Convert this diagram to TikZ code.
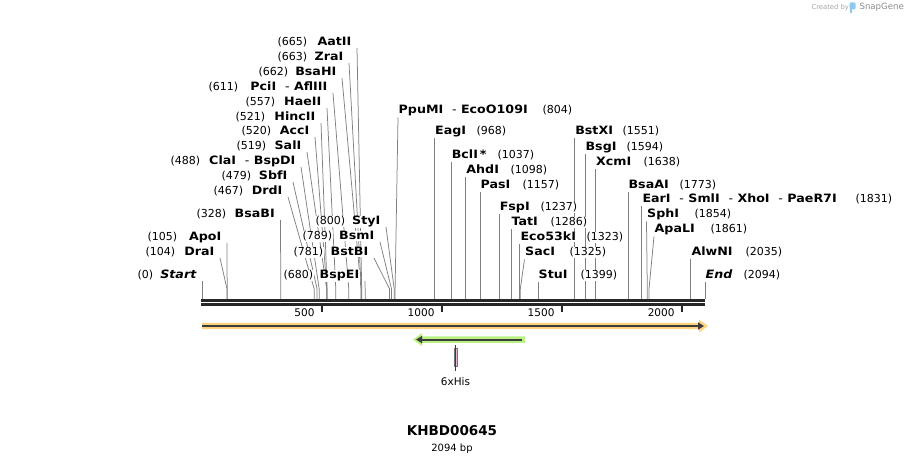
\documentclass[tikz,border=0pt]{standalone}
\usepackage{fontspec}
\setmainfont{DejaVu Sans}
\newfontfamily\enzfont{DejaVu Sans}[FakeStretch=1.1]
\usepackage{tikz}
\usetikzlibrary{positioning, arrows.meta, backgrounds}

\definecolor{leadgray}{RGB}{128,128,128}
\definecolor{bandorange}{RGB}{255,210,125}
\definecolor{bandgreen}{RGB}{185,240,130}
\definecolor{arrowdark}{RGB}{60,60,60}
\definecolor{hispink}{RGB}{228,180,210}
\definecolor{snapblue}{RGB}{140,200,240}

\begin{document}
\begin{tikzpicture}[x=1pt, y=-1pt,
    num/.style={inner sep=0.5pt, fill=white, font=\fontsize{11}{13}\selectfont},
    enz/.style={inner sep=0.5pt, fill=white, font=\enzfont\bfseries\fontsize{11.5}{13}\selectfont},
    lead/.style={draw=leadgray, line width=0.75pt},
    tick/.style={font=\fontsize{10.5}{12}\selectfont, anchor=base east}]

    \useasboundingbox (0,0) rectangle (906,462);

    % cut sites on top of the ruler
    \coordinate (s0) at (202,299);
    \coordinate (s104) at (227.0,299);
    \coordinate (s105) at (227.2,299);
    \coordinate (s328) at (280.8,299);
    \coordinate (s467) at (314.2,299);
    \coordinate (s479) at (317.1,299);
    \coordinate (s488) at (319.2,299);
    \coordinate (s519) at (326.7,299);
    \coordinate (s520) at (326.9,299);
    \coordinate (s521) at (327.1,299);
    \coordinate (s557) at (335.8,299);
    \coordinate (s611) at (348.8,299);
    \coordinate (s662) at (361.0,299);
    \coordinate (s663) at (361.3,299);
    \coordinate (s665) at (361.7,299);
    \coordinate (s680) at (365.3,299);
    \coordinate (s781) at (389.6,299);
    \coordinate (s789) at (391.5,299);
    \coordinate (s800) at (394.2,299);
    \coordinate (s804) at (395.1,299);
    \coordinate (s968) at (434.5,299);
    \coordinate (s1037) at (451.1,299);
    \coordinate (s1098) at (465.7,299);
    \coordinate (s1157) at (479.9,299);
    \coordinate (s1237) at (499.1,299);
    \coordinate (s1286) at (510.9,299);
    \coordinate (s1323) at (519.8,299);
    \coordinate (s1325) at (520.3,299);
    \coordinate (s1399) at (538.0,299);
    \coordinate (s1551) at (574.6,299);
    \coordinate (s1594) at (584.9,299);
    \coordinate (s1638) at (595.5,299);
    \coordinate (s1773) at (627.9,299);
    \coordinate (s1831) at (641.8,299);
    \coordinate (s1854) at (647.3,299);
    \coordinate (s1861) at (649.0,299);
    \coordinate (s2035) at (690.8,299);
    \coordinate (s2094) at (705,299);

    % labels left of their site
    \node[enz, anchor=base east] (aatii) at (352,46) {AatII};
    \node[num, anchor=base west] (n665) at (277,46) {(665)};
    \node[enz, anchor=base east] (zrai) at (344,61) {ZraI};
    \node[num, anchor=base west] (n663) at (277,61) {(663)};
    \node[enz, anchor=base east] (bsahi) at (337,76) {BsaHI};
    \node[num, anchor=base west] (n662) at (258,76) {(662)};
    \node[enz, anchor=base east] (pcii) at (328,91) {PciI\ \ \textmd{-}\ AflIII};
    \node[num, anchor=base west] (n611) at (208,91) {(611)};
    \node[enz, anchor=base east] (haeii) at (322,106) {HaeII};
    \node[num, anchor=base west] (n557) at (245,106) {(557)};
    \node[enz, anchor=base east] (hincii) at (316,121) {HincII};
    \node[num, anchor=base west] (n521) at (235,121) {(521)};
    \node[enz, anchor=base east] (acci) at (310,135) {AccI};
    \node[num, anchor=base west] (n520) at (241,135) {(520)};
    \node[enz, anchor=base east] (sali) at (302,150) {SalI};
    \node[num, anchor=base west] (n519) at (236,150) {(519)};
    \node[enz, anchor=base east] (clai) at (296,165) {ClaI\ \ \textmd{-}\ BspDI};
    \node[num, anchor=base west] (n488) at (170,165) {(488)};
    \node[enz, anchor=base east] (sbfi) at (288,180) {SbfI};
    \node[num, anchor=base west] (n479) at (221,180) {(479)};
    \node[enz, anchor=base east] (drdi) at (283,195) {DrdI};
    \node[num, anchor=base west] (n467) at (213,195) {(467)};
    \node[enz, anchor=base east] (bsabi) at (275.5,218) {BsaBI};
    \node[num, anchor=base west] (n328) at (196,218) {(328)};
    \node[enz, anchor=base east] (apoi) at (222,241) {ApoI};
    \node[num, anchor=base west] (n105) at (147,241) {(105)};
    \node[enz, anchor=base east] (drai) at (215,256) {DraI};
    \node[num, anchor=base west] (n104) at (145,256) {(104)};
    \node[enz, anchor=base east] (start) at (197,279) {\itshape Start};
    \node[num, anchor=base west] (n0) at (137,279) {(0)};
    \node[enz, anchor=base east] (styi) at (381,225) {StyI};
    \node[num, anchor=base west] (n800) at (315,225) {(800)};
    \node[enz, anchor=base east] (bsmi) at (375,240) {BsmI};
    \node[num, anchor=base west] (n789) at (302,240) {(789)};
    \node[enz, anchor=base east] (bstbi) at (369,256) {BstBI};
    \node[num, anchor=base west] (n781) at (293,256) {(781)};
    \node[enz, anchor=base east] (bspei) at (360,279) {BspEI};
    \node[num, anchor=base west] (n680) at (283,279) {(680)};

    % labels right of their site
    \node[enz, anchor=base west] (ppumi) at (398,114) {PpuMI\ \ \textmd{-}\ EcoO109I};
    \node[num, anchor=base west] (n804) at (542,114) {(804)};
    \node[enz, anchor=base west] (eagi) at (434.5,135) {EagI};
    \node[num, anchor=base west] (n968) at (476,135) {(968)};
    \node[enz, anchor=base west] (bcli) at (451.1,159) {BclI\,*};
    \node[num, anchor=base west] (n1037) at (497,159) {(1037)};
    \node[enz, anchor=base west] (ahdi) at (465.7,174) {AhdI};
    \node[num, anchor=base west] (n1098) at (510,174) {(1098)};
    \node[enz, anchor=base west] (pasi) at (479.9,189) {PasI};
    \node[num, anchor=base west] (n1157) at (522,189) {(1157)};
    \node[enz, anchor=base west] (fspi) at (499.1,211) {FspI};
    \node[num, anchor=base west] (n1237) at (540,211) {(1237)};
    \node[enz, anchor=base west] (tati) at (510.9,226) {TatI};
    \node[num, anchor=base west] (n1286) at (550,226) {(1286)};
    \node[enz, anchor=base west] (ecoki) at (519.8,241) {Eco53kI};
    \node[num, anchor=base west] (n1323) at (586,241) {(1323)};
    \node[enz, anchor=base west] (saci) at (524.5,256) {SacI};
    \node[num, anchor=base west] (n1325) at (569,256) {(1325)};
    \node[enz, anchor=base west] (stui) at (538,279) {StuI};
    \node[num, anchor=base west] (n1399) at (580,279) {(1399)};
    \node[enz, anchor=base west] (bstxi) at (574.6,135) {BstXI};
    \node[num, anchor=base west] (n1551) at (622,135) {(1551)};
    \node[enz, anchor=base west] (bsgi) at (584.9,151) {BsgI};
    \node[num, anchor=base west] (n1594) at (626,151) {(1594)};
    \node[enz, anchor=base west] (xcmi) at (595.5,166) {XcmI};
    \node[num, anchor=base west] (n1638) at (643,166) {(1638)};
    \node[enz, anchor=base west] (bsaai) at (627.9,189) {BsaAI};
    \node[num, anchor=base west] (n1773) at (679,189) {(1773)};
    \node[enz, anchor=base west] (eari) at (641.8,203) {EarI\ \ \textmd{-}\ SmlI\ \ \textmd{-}\ XhoI\ \ \textmd{-}\ PaeR7I};
    \node[num, anchor=base west] (n1831) at (855,203) {(1831)};
    \node[enz, anchor=base west] (sphi) at (646.5,218) {SphI};
    \node[num, anchor=base west] (n1854) at (694,218) {(1854)};
    \node[enz, anchor=base west] (apali) at (654,233) {ApaLI};
    \node[num, anchor=base west] (n1861) at (710,233) {(1861)};
    \node[enz, anchor=base west] (alwni) at (690.8,256) {AlwNI};
    \node[num, anchor=base west] (n2035) at (745,256) {(2035)};
    \node[enz, anchor=base west] (end) at (705,279) {\itshape End};
    \node[num, anchor=base west] (n2094) at (743,279) {(2094)};

    % leaders behind the labels
    \begin{scope}[on background layer]
    \draw[lead] ([xshift=5pt,yshift=-2pt]aatii.base east) -- ([yshift=10pt]s665) -- (s665);
    \draw[lead] ([xshift=5pt,yshift=-2pt]zrai.base east) -- ([yshift=10pt]s663) -- (s663);
    \draw[lead] ([xshift=5pt,yshift=-2pt]bsahi.base east) -- ([yshift=10pt]s662) -- (s662);
    \draw[lead] ([xshift=5pt,yshift=-2pt]pcii.base east) -- ([yshift=10pt]s611) -- (s611);
    \draw[lead] ([xshift=5pt,yshift=-2pt]haeii.base east) -- ([yshift=10pt]s557) -- (s557);
    \draw[lead] ([xshift=5pt,yshift=-2pt]hincii.base east) -- ([yshift=10pt]s521) -- (s521);
    \draw[lead] ([xshift=5pt,yshift=-2pt]acci.base east) -- ([yshift=10pt]s520) -- (s520);
    \draw[lead] ([xshift=5pt,yshift=-2pt]sali.base east) -- ([yshift=10pt]s519) -- (s519);
    \draw[lead] ([xshift=5pt,yshift=-2pt]clai.base east) -- ([yshift=10pt]s488) -- (s488);
    \draw[lead] ([xshift=5pt,yshift=-2pt]sbfi.base east) -- ([yshift=10pt]s479) -- (s479);
    \draw[lead] ([xshift=5pt,yshift=-2pt]drdi.base east) -- ([yshift=10pt]s467) -- (s467);
    \draw[lead] ([xshift=5pt,yshift=-2pt]bsabi.base east) -- (s328);
    \draw[lead] ([xshift=5pt,yshift=-2pt]apoi.base east) -- (s105);
    \draw[lead] ([xshift=5pt,yshift=-2pt]drai.base east) -- ([yshift=10pt]s104) -- (s104);
    \draw[lead] ([xshift=5pt,yshift=-2pt]start.base east) -- (s0);
    \draw[lead] ([xshift=5pt,yshift=-2pt]styi.base east) -- ([yshift=10pt]s800) -- (s800);
    \draw[lead] ([xshift=5pt,yshift=-2pt]bsmi.base east) -- ([yshift=10pt]s789) -- (s789);
    \draw[lead] ([xshift=5pt,yshift=-2pt]bstbi.base east) -- ([yshift=10pt]s781) -- (s781);
    \draw[lead] ([xshift=5pt,yshift=-2pt]bspei.base east) -- (s680);

    \draw[lead] ([yshift=-3.5pt]ppumi.base west) -- ([yshift=10pt]s804) -- (s804);
    \draw[lead] ([yshift=-3.5pt]eagi.base west) -- (s968);
    \draw[lead] ([yshift=-3.5pt]bcli.base west) -- (s1037);
    \draw[lead] ([yshift=-3.5pt]ahdi.base west) -- (s1098);
    \draw[lead] ([yshift=-3.5pt]pasi.base west) -- (s1157);
    \draw[lead] ([yshift=-3.5pt]fspi.base west) -- (s1237);
    \draw[lead] ([yshift=-3.5pt]tati.base west) -- (s1286);
    \draw[lead] ([yshift=-3.5pt]ecoki.base west) -- (s1323);
    \draw[lead] ([yshift=-3.5pt]saci.base west) -- ([yshift=10pt]s1325) -- (s1325);
    \draw[lead] ([yshift=-3.5pt]stui.base west) -- (s1399);
    \draw[lead] ([yshift=-3.5pt]bstxi.base west) -- (s1551);
    \draw[lead] ([yshift=-3.5pt]bsgi.base west) -- (s1594);
    \draw[lead] ([yshift=-3.5pt]xcmi.base west) -- (s1638);
    \draw[lead] ([yshift=-3.5pt]bsaai.base west) -- (s1773);
    \draw[lead] ([yshift=-3.5pt]eari.base west) -- (s1831);
    \draw[lead] ([yshift=-3.5pt]sphi.base west) -- ([yshift=10pt]s1854) -- (s1854);
    \draw[lead] ([yshift=-3.5pt]apali.base west) -- ([yshift=10pt]s1861) -- (s1861);
    \draw[lead] ([yshift=-3.5pt]alwni.base west) -- (s2035);
    \draw[lead] ([yshift=-3.5pt]end.base west) -- (s2094);
    \end{scope}

    % ruler
    \draw[line width=3pt, black!85] (201,300.5) -- (705,300.5);
    \draw[line width=2.5pt, black!85] (201,304.5) -- (705,304.5);
    \draw[line width=1.5pt, black!85] (322,305) -- (322,312);
    \draw[line width=1.5pt, black!85] (442,305) -- (442,312);
    \draw[line width=1.5pt, black!85] (562,305) -- (562,312);
    \draw[line width=1.5pt, black!85] (682,305) -- (682,312);
    \node[tick] (t500) at (318,316.5) {500};
    \node[tick] (t1000) at (438,316.5) {1000};
    \node[tick] (t1500) at (558,316.5) {1500};
    \node[tick] (t2000) at (678,316.5) {2000};

    % features
    \fill[bandorange] (202,322.8) -- (699,322.8) -- (699,319.5) -- (708,326) -- (699,332.5) -- (699,329.2) -- (202,329.2) -- cycle;
    \draw[arrowdark, line width=2pt, -{Triangle[length=6pt,width=7pt]}] (202,326) -- (704,326);
    \fill[bandgreen] (525,336.3) -- (422,336.3) -- (422,333) -- (413,339.6) -- (422,346.2) -- (422,342.9) -- (525,342.9) -- cycle;
    \draw[arrowdark, line width=2pt, -{Triangle[length=6pt,width=7pt]}] (522,339.6) -- (416,339.6);
    \node[draw=arrowdark!70, fill=hispink, line width=0.5pt, inner sep=0pt,
          minimum width=3pt, minimum height=18pt] (his) at (455.5,357.5) {};
    \draw[arrowdark, line width=0.75pt] ([yshift=3pt]his.north) -- ([yshift=-4pt]his.south);
    \node[below=7pt of his, font=\fontsize{10.5}{12}\selectfont] (hislabel) {6xHis};

    % title
    \node[font=\bfseries\fontsize{13.5}{15}\selectfont] (title) at (452,431) {KHBD00645};
    \node[below=1pt of title, font=\fontsize{10}{12}\selectfont] (length) {2094 bp};

    % credit
    \node[text=black!35, font=\fontsize{6.8}{8}\selectfont, anchor=west] (credit) at (808,7.5) {Created by};
    \fill[snapblue, rounded corners=1.2pt] (849.5,2.5) rectangle (855.5,9.5);
    \fill[snapblue] (849.5,5) rectangle (852.2,13.5);
    \node[text=black!45, font=\fontsize{8.6}{10}\selectfont, anchor=west] (snapgene) at (856,7.5) {SnapGene};
\end{tikzpicture}
\end{document}
